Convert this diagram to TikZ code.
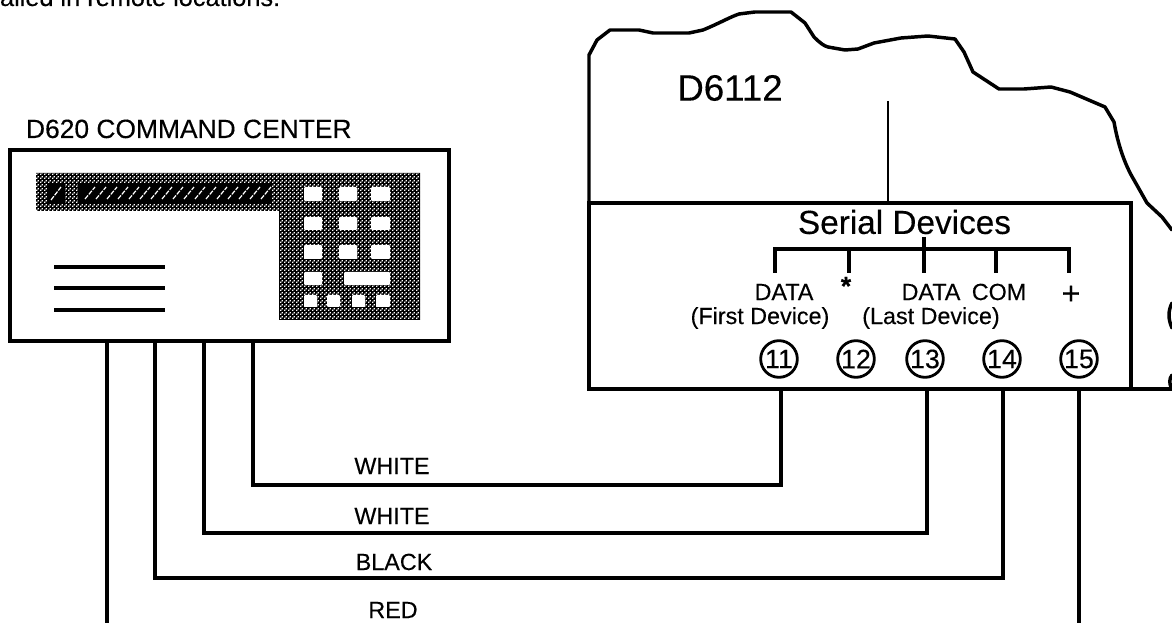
\documentclass[tikz,border=0pt]{standalone}
\usepackage{fontspec}
\setmainfont{Liberation Sans}[FakeBold=0.25]
\usetikzlibrary{patterns}
\newcommand{\fs}[1]{\fontsize{#1}{#1}\selectfont}
\pgfdeclarepatternformonly{ditherdots}{\pgfqpoint{0pt}{0pt}}{\pgfqpoint{3pt}{3pt}}{\pgfqpoint{3pt}{3pt}}{%
  \pgfpathrectangle{\pgfqpoint{0pt}{0pt}}{\pgfqpoint{1.25pt}{1.25pt}}%
  \pgfpathrectangle{\pgfqpoint{1.5pt}{1.5pt}}{\pgfqpoint{1.25pt}{1.25pt}}%
  \pgfusepath{fill}%
}
\tikzset{
  x=0.75pt,y=-0.75pt,
  boxline/.style={draw=black,line width=2.5pt,outer sep=0pt},
  wire/.style={draw=black,line width=2.4pt,line join=miter},
  thin wire/.style={draw=black,line width=2pt},
  outline/.style={draw=black,line width=2.6pt,line join=round,line cap=round},
  lbl/.style={inner sep=0pt,outer sep=0pt,font=\fs{17.5}},
  termcirc/.style={circle,draw=black,line width=2.1pt,minimum size=27.5pt,inner sep=0pt,font=\fs{20}},
  keycap/.style={fill=white,rounded corners=0.8pt},
  dither/.style={pattern=ditherdots,pattern color=white},
}
\begin{document}
\begin{tikzpicture}
\useasboundingbox (0,0) rectangle (1172,623);
\fill[white] (0,0) rectangle (1172,623);
\begin{scope}
\clip (0,0) rectangle (1172,623);
% intro text
\node[lbl,anchor=base west,font=\fs{19}] (intro) at (0,6) {alled in remote locations.};
% D6112 outline
\draw[outline] (589,389) -- (589,55) -- (597,40) -- (610,30) -- (639,30) -- (653,33) -- (689,33) -- (703,30)
 .. controls (720,23) and (730,17) .. (739,14) -- (755,12) -- (791,12) -- (805,23) -- (814,37)
 .. controls (820,43) and (824,46) .. (828,47) -- (845,50) -- (858,49) -- (874,43) -- (901,38) -- (928,36) -- (955,39)
 -- (964,52) -- (973,72) -- (999,89) -- (1024,89) -- (1051,87) -- (1070,92) -- (1105,107) -- (1114,122)
 .. controls (1118,145) and (1125,165) .. (1134,180) -- (1147,203) -- (1162,217) -- (1172,230);
\draw[outline] (1172,303) .. controls (1168,311) and (1168,319) .. (1172,328);
\draw[outline] (1172,375) .. controls (1169,379) and (1169,384) .. (1172,389);
\end{scope}
\node[lbl,anchor=center,font=\fs{27.5}] (d6112) at (730,88) {D6112};
% terminal block
\node[rectangle,boxline,minimum width=406.5pt,minimum height=139.5pt,inner sep=0pt,anchor=north west] (block) at (589,203) {};
\coordinate (mainend) at (1172,389);
\draw[boxline] (block.south east) -- (mainend);
\coordinate (ctop) at (888,101);
\draw[thin wire] (ctop) -- (888,203);
\node[lbl,font=\fs{25}] (serial) at (904.5,222) {Serial Devices};
% bracket
\coordinate (bl) at (775,273); \coordinate (br) at (1069,273);
\draw[wire] (bl) -- (775,249) -- (1069,249) -- (br);
\draw[wire] (849,249) -- (849,273);
\draw[wire] (924,237) -- (924,273);
\draw[wire] (996,249) -- (996,273);
% labels
\node[lbl] (data1) at (784,292) {DATA};
\node[lbl,font=\fs{20}\bfseries] (star) at (846,286) {*};
\node[lbl] (data2) at (931,292) {DATA};
\node[lbl] (com) at (999,292) {COM};
\node[lbl,font=\fs{24}] (plus) at (1071,295) {+};
\node[lbl] (first) at (760,318) {(First Device)};
\node[lbl] (last) at (931,318) {(Last Device)};
% terminals
\node[termcirc] (t11) at (779,359) {11};
\node[termcirc] (t12) at (856,359) {12};
\node[termcirc] (t13) at (925,359) {13};
\node[termcirc] (t14) at (1002,359) {14};
\node[termcirc] (t15) at (1079,359) {15};
% command center
\node[lbl,anchor=base west,font=\fs{19.8}] (cmdlabel) at (26,138) {D620 COMMAND CENTER};
\node[rectangle,boxline,minimum width=329.25pt,minimum height=143.25pt,inner sep=0pt,anchor=north west] (cmd) at (10,150) {};
% panel
\fill[black] (36,173) -- (420,173) -- (420,320) -- (279,320) -- (279,211) -- (36,211) -- cycle;
\fill[dither] (36,173) -- (420,173) -- (420,320) -- (279,320) -- (279,211) -- (36,211) -- cycle;
\fill[black] (47,183) rectangle (65,203);
\fill[black] (78,183) rectangle (272,203);
\foreach \hx in {85,96,...,262} {
  \draw[white,line width=0.9pt,dash pattern=on 3.5pt off 1pt] (\hx,199) -- (\hx+10,187);
}
\draw[white,line width=0.9pt,dash pattern=on 3.5pt off 1pt] (51,200) -- (61,187);
% keys
\foreach \ky/\kh in {187/201,217/230,245/259,272/285} {
  \fill[keycap] (304,\ky) rectangle (322,\kh);
}
\foreach \ky/\kh in {187/201,217/230,245/259} {
  \fill[keycap] (339,\ky) rectangle (357,\kh);
  \fill[keycap] (371,\ky) rectangle (390,\kh);
}
\fill[keycap] (344,272) rectangle (390,285);
\foreach \kx/\kw in {304/317,327/340,352/365,376/390} {
  \fill[keycap] (\kx,295) rectangle (\kw,307);
}
\draw[wire] (54,267) -- (165,267);
\draw[wire] (54,288) -- (165,288);
\draw[wire] (54,310) -- (165,310);
% wires
\coordinate (s1) at (253,341); \coordinate (s2) at (204,341); \coordinate (s3) at (155,341); \coordinate (s4) at (107,341);
\coordinate (e1) at (781,389); \coordinate (e2) at (927,389); \coordinate (e3) at (1003,389); \coordinate (e4) at (1079,389);
\draw[wire] (s1) |- (781,485) -- (e1);
\draw[wire] (s2) |- (927,533) -- (e2);
\draw[wire] (s3) |- (1003,578) -- (e3);
\coordinate (r1) at (107,623); \coordinate (r2) at (1079,623);
\draw[wire] (s4) -- (r1);
\draw[wire] (e4) -- (r2);
\node[lbl] (wa) at (392,466) {WHITE};
\node[lbl] (wb) at (392,516) {WHITE};
\node[lbl] (wc) at (394,562) {BLACK};
\node[lbl] (wd) at (393,610) {RED};
\end{tikzpicture}
\end{document}
